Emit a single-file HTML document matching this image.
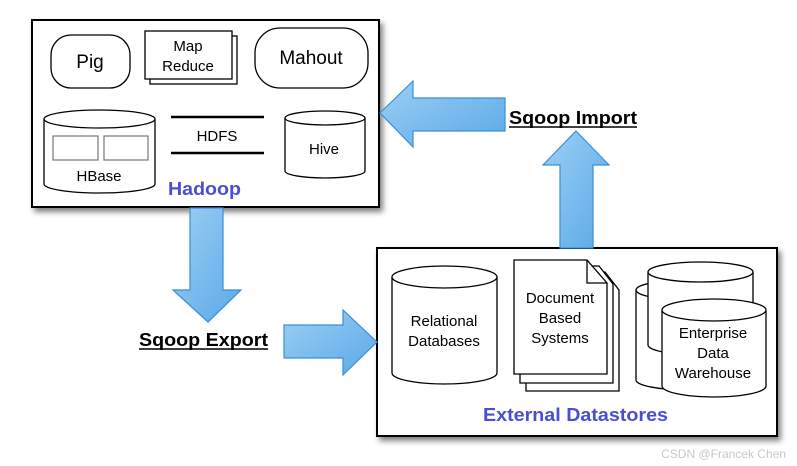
<!DOCTYPE html>
<html><head><meta charset="utf-8"><style>
html,body{margin:0;padding:0;background:#fff;}
svg{display:block;}
text{font-family:"Liberation Sans",Arial,sans-serif;}
</style></head><body>
<svg width="797" height="466" viewBox="0 0 797 466" xmlns="http://www.w3.org/2000/svg">
<defs>
<filter id="sh" x="-10%" y="-10%" width="130%" height="130%">
<feGaussianBlur in="SourceAlpha" stdDeviation="3"/>
<feOffset dx="3" dy="4"/>
<feComponentTransfer><feFuncA type="linear" slope="0.5"/></feComponentTransfer>
<feMerge><feMergeNode/><feMergeNode in="SourceGraphic"/></feMerge>
</filter>
<linearGradient id="g" x1="0" y1="0" x2="1" y2="1">
<stop offset="0" stop-color="#9ccff5"/><stop offset="1" stop-color="#5aa9e6"/>
</linearGradient>
</defs>

<rect x="32" y="20" width="347" height="187" fill="#fff" stroke="#000" stroke-width="2" filter="url(#sh)"/>
<rect x="51" y="35" width="79" height="53" rx="20" fill="#fff" stroke="#000" stroke-width="1.3"/>
<text x="90" y="68" font-size="19" text-anchor="middle">Pig</text>
<rect x="150" y="36" width="87" height="48" fill="#fff" stroke="#000" stroke-width="1.3"/>
<rect x="145" y="31" width="87" height="48" fill="#fff" stroke="#000" stroke-width="1.3"/>
<text x="188" y="51" font-size="15" text-anchor="middle">Map</text>
<text x="188" y="71" font-size="15" text-anchor="middle">Reduce</text>
<rect x="255" y="28" width="113" height="60" rx="25" fill="#fff" stroke="#000" stroke-width="1.3"/>
<text x="311" y="64" font-size="19" text-anchor="middle">Mahout</text>
<path d="M44 119 V184 A55.5 9 0 0 0 155 184 V119" fill="#fff" stroke="#000" stroke-width="1.3"/>
<ellipse cx="99.5" cy="119" rx="55.5" ry="9" fill="#fff" stroke="#000" stroke-width="1.3"/>
<rect x="53" y="136" width="45" height="24" fill="#fff" stroke="#777" stroke-width="1.2"/>
<rect x="104" y="136" width="44" height="24" fill="#fff" stroke="#777" stroke-width="1.2"/>
<text x="99" y="181" font-size="15" text-anchor="middle">HBase</text>
<line x1="171" y1="117" x2="264" y2="117" stroke="#000" stroke-width="2.5"/>
<line x1="171" y1="153" x2="264" y2="153" stroke="#000" stroke-width="2.5"/>
<text x="217" y="141" font-size="15" text-anchor="middle">HDFS</text>
<path d="M285 118 V171 A40 7 0 0 0 365 171 V118" fill="#fff" stroke="#000" stroke-width="1.3"/>
<ellipse cx="325" cy="118" rx="40" ry="7" fill="#fff" stroke="#000" stroke-width="1.3"/>
<text x="324" y="154" font-size="15" text-anchor="middle">Hive</text>
<text x="168" y="195" font-size="18" font-weight="bold" fill="#4a4ed6" textLength="73" lengthAdjust="spacingAndGlyphs">Hadoop</text>

<rect x="377" y="248" width="400" height="188" fill="#fff" stroke="#000" stroke-width="2" filter="url(#sh)"/>
<path d="M392 277 V373 A52.5 11 0 0 0 497 373 V277" fill="#fff" stroke="#000" stroke-width="1.3"/>
<ellipse cx="444.5" cy="277" rx="52.5" ry="11" fill="#fff" stroke="#000" stroke-width="1.3"/>
<text x="444" y="326" font-size="15" text-anchor="middle">Relational</text>
<text x="444" y="346" font-size="15" text-anchor="middle">Databases</text>
<path d="M526 272 H605 L619 290 V391 H526 Z" fill="#fff" stroke="#000" stroke-width="1.3"/>
<path d="M520 266 H599 L613 284 V383 H520 Z" fill="#fff" stroke="#000" stroke-width="1.3"/>
<path d="M514 260 H587 L607 283 V374 H514 Z" fill="#fff" stroke="#000" stroke-width="1.3"/>
<path d="M587 260 V283 H607" fill="none" stroke="#000" stroke-width="1.3"/>
<text x="560" y="303" font-size="15" text-anchor="middle">Document</text>
<text x="560" y="323" font-size="15" text-anchor="middle">Based</text>
<text x="560" y="343" font-size="15" text-anchor="middle">Systems</text>
<path d="M636 290 V380 A52 10 0 0 0 740 380 V290" fill="#fff" stroke="#000" stroke-width="1.3"/>
<ellipse cx="688" cy="290" rx="52" ry="10" fill="#fff" stroke="#000" stroke-width="1.3"/>
<path d="M648 272 V345 A52.5 10 0 0 0 753 345 V272" fill="#fff" stroke="#000" stroke-width="1.3"/>
<ellipse cx="700.5" cy="272" rx="52.5" ry="10" fill="#fff" stroke="#000" stroke-width="1.3"/>
<path d="M662 310 V386 A52 11 0 0 0 766 386 V310" fill="#fff" stroke="#000" stroke-width="1.3"/>
<ellipse cx="714" cy="310" rx="52" ry="11" fill="#fff" stroke="#000" stroke-width="1.3"/>
<text x="713" y="338" font-size="15" text-anchor="middle">Enterprise</text>
<text x="713" y="358" font-size="15" text-anchor="middle">Data</text>
<text x="713" y="378" font-size="15" text-anchor="middle">Warehouse</text>
<text x="483" y="421" font-size="18" font-weight="bold" fill="#4a4ed6" textLength="185" lengthAdjust="spacingAndGlyphs">External Datastores</text>

<g fill="url(#g)" stroke="#3a8fd9" stroke-width="1.2">
<polygon points="380,113 413,81 413,98 505,98 505,131 413,131 413,147"/>
<polygon points="576,131 609,165 593,165 593,248 560,248 560,165 543,165"/>
<polygon points="190,208 223,208 223,290 241,290 208,322 173,290 190,290"/>
<polygon points="284,325 343,325 343,310 377,342 343,375 343,358 284,358"/>
</g>

<text x="509" y="124" font-size="18" font-weight="bold" textLength="128" lengthAdjust="spacingAndGlyphs">Sqoop Import</text>
<line x1="509" y1="127" x2="637" y2="127" stroke="#000" stroke-width="1.5"/>
<text x="139" y="346" font-size="18" font-weight="bold" textLength="129" lengthAdjust="spacingAndGlyphs">Sqoop Export</text>
<line x1="139" y1="349" x2="268" y2="349" stroke="#000" stroke-width="1.5"/>

<text x="786" y="458" font-size="12" fill="#c8c8c8" text-anchor="end">CSDN @Francek Chen</text>
</svg>
</body></html>
